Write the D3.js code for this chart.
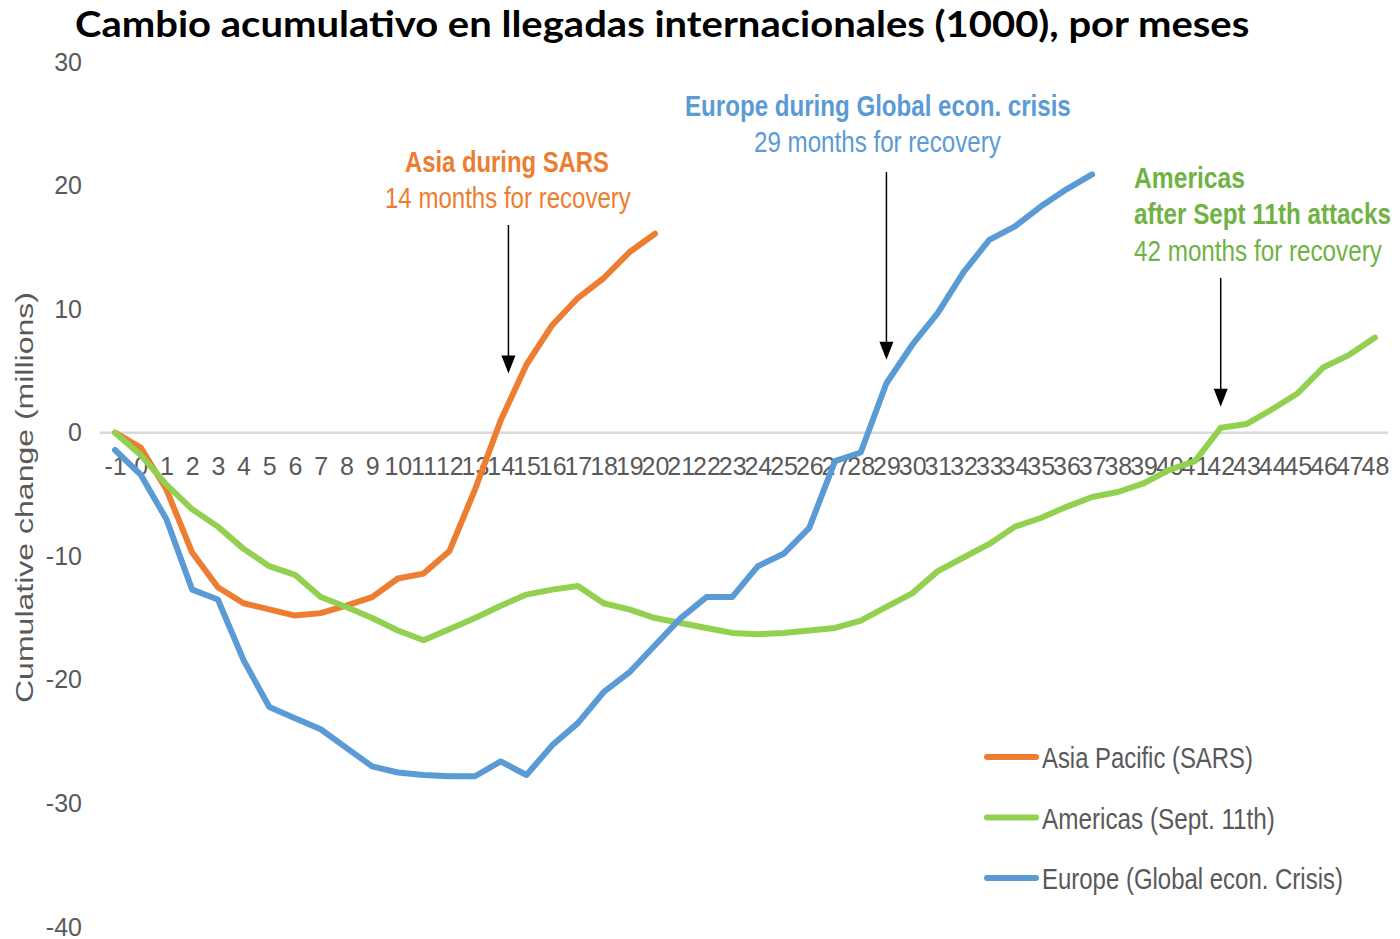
<!DOCTYPE html>
<html><head><meta charset="utf-8">
<script src="https://cdn.jsdelivr.net/npm/d3@7/dist/d3.min.js"></script>
<style>
html,body{margin:0;padding:0;background:#fff;}
svg{display:block;}
</style></head>
<body>
<svg id="chart" width="1400" height="939"></svg>
<script>
// ---- data ----
const months = [-1,0,1,2,3,4,5,6,7,8,9,10,11,12,13,14,15,16,17,18,19,20,21,22,23,24,25,26,27,28,29,30,31,32,33,34,35,36,37,38,39,40,41,42,43,44,45,46,47,48];
const yTicks = [30,20,10,0,-10,-20,-30,-40];
const asiaPacific = [0,-1.2,-4.6,-9.7,-12.5,-13.8,-14.3,-14.8,-14.6,-14.0,-13.3,-11.8,-11.4,-9.6,-4.6,1.0,5.5,8.7,10.9,12.5,14.6,16.1];
const americas = [0,-1.8,-4.2,-6.2,-7.6,-9.4,-10.8,-11.5,-13.3,-14.1,-15.0,-16.0,-16.8,-15.9,-15.0,-14.0,-13.1,-12.7,-12.4,-13.8,-14.3,-15.0,-15.4,-15.8,-16.2,-16.3,-16.2,-16.0,-15.8,-15.2,-14.1,-13.0,-11.2,-10.1,-9.0,-7.6,-6.9,-6.0,-5.2,-4.8,-4.1,-3.0,-2.3,0.4,0.7,1.9,3.2,5.3,6.3,7.7];
const europe = [-1.4,-3.4,-7.0,-12.7,-13.5,-18.4,-22.2,-23.1,-24.0,-25.5,-27.0,-27.5,-27.7,-27.8,-27.8,-26.6,-27.7,-25.3,-23.5,-21.0,-19.4,-17.2,-15.0,-13.3,-13.3,-10.8,-9.8,-7.7,-2.3,-1.6,4.0,7.1,9.7,13.0,15.6,16.7,18.3,19.7,20.9];
const seriesNames = ["Asia Pacific (SARS)", "Americas (Sept. 11th)", "Europe (Global econ. Crisis)"];
const recoveryMonths = [14.3, 29, 42];
const title = "Cambio acumulativo en llegadas internacionales (1000), por meses";
const yTitle = "Cumulative change (millions)";

// ---- setup ----
const svg = d3.select("#chart");
const tickFont = '"Liberation Sans Narrow","Arial Narrow","Liberation Sans",Arial,sans-serif';
const x = d3.scaleLinear().domain([-1, 48]).range([115, 1375]);
const y = d3.scaleLinear().domain([-40, 30]).range([927, 62]);

const colors = ["#ED7D31", "#92D050", "#5B9BD5"];
const textColors = ["#ED7D31", "#70B244", "#5B9BD5"];

// place a text whose left edge is at px and fit its width to w by horizontal scaling
function fitText(sel, px, py, w) {
  const natural = sel.node().getComputedTextLength();
  const sx = natural > 0 ? w / natural : 1;
  sel.attr("x", 0).attr("y", 0)
     .attr("transform", `translate(${px},${py}) scale(${sx},1)`);
  return sel;
}

// title
fitText(svg.append("text")
  .attr("font-family", "Lato, 'Noto Sans', sans-serif").attr("font-weight", "bold")
  .attr("font-size", 37).attr("fill", "#000")
  .text(title), 75, 37, 1175);

// y axis
const yAxis = svg.append("g").attr("transform", "translate(84,0)")
  .call(d3.axisLeft(y).tickValues(yTicks).tickSize(0).tickPadding(2).tickFormat(d => String(d)));
yAxis.select(".domain").remove();
yAxis.selectAll("text").attr("font-family", tickFont).attr("font-size", 25).attr("fill", "#595959");

// zero line
svg.append("line")
  .attr("x1", x(-1.6)).attr("x2", x(48.5))
  .attr("y1", y(0)).attr("y2", y(0))
  .attr("stroke", "#D9D9D9").attr("stroke-width", 2.5);

// x axis labels
const xAxis = svg.append("g").attr("transform", `translate(0,${y(0)})`)
  .call(d3.axisBottom(x).tickValues(months).tickSize(0).tickPadding(25).tickFormat(d => String(d)));
xAxis.select(".domain").remove();
xAxis.selectAll("text").attr("font-family", tickFont).attr("font-size", 25).attr("fill", "#595959");

// y title
svg.append("text")
  .attr("transform", `translate(33,${(292+703)/2}) rotate(-90)`)
  .attr("text-anchor", "middle")
  .attr("font-family", "'Liberation Sans',Arial,sans-serif").attr("font-size", 23)
  .attr("fill", "#595959").attr("textLength", 411).attr("lengthAdjust", "spacingAndGlyphs")
  .text(yTitle);

// lines
const line = d3.line().x((d, i) => x(months[i])).y(d => y(d));
[asiaPacific, americas, europe].forEach((s, k) => {
  svg.append("path").datum(s)
    .attr("fill", "none").attr("stroke", colors[k]).attr("stroke-width", 6)
    .attr("stroke-linejoin", "round").attr("stroke-linecap", "round")
    .attr("d", line);
});

// arrows
const arrowTops = [225, 172, 278];
const arrowTipVals = [4.8, 5.9, 2.1];
recoveryMonths.forEach((m, k) => {
  const ax = x(m), top = arrowTops[k], tip = y(arrowTipVals[k]);
  svg.append("line").attr("x1", ax).attr("x2", ax).attr("y1", top).attr("y2", tip - 14)
    .attr("stroke", "#000").attr("stroke-width", 1.5);
  svg.append("path")
    .attr("d", `M${ax - 7},${tip - 18} L${ax + 7},${tip - 18} L${ax},${tip} Z`)
    .attr("fill", "#000");
});

// annotations
const annFont = '"Liberation Sans Narrow","Arial Narrow","Liberation Sans",Arial,sans-serif';
const annotations = [
  {t: "Asia during SARS", x: 405, y: 172, w: 204, b: true, c: 0},
  {t: "14 months for recovery", x: 385, y: 208, w: 246, b: false, c: 0},
  {t: "Europe during Global econ. crisis", x: 685, y: 116, w: 386, b: true, c: 2},
  {t: "29 months for recovery", x: 754, y: 152, w: 247, b: false, c: 2},
  {t: "Americas", x: 1134, y: 188, w: 111, b: true, c: 1},
  {t: "after Sept 11th attacks", x: 1134, y: 224, w: 257, b: true, c: 1},
  {t: "42 months for recovery", x: 1134, y: 261, w: 248, b: false, c: 1}
];
annotations.forEach(a => {
  fitText(svg.append("text")
    .attr("font-family", annFont).attr("font-size", 29)
    .attr("font-weight", a.b ? "bold" : "normal")
    .attr("fill", textColors[a.c])
    .text(a.t), a.x, a.y, a.w);
});

// legend
const legendW = [211, 233, 301];
seriesNames.forEach((n, k) => {
  const ly = 757 + k * 60.5;
  svg.append("line").attr("x1", 987).attr("x2", 1036).attr("y1", ly).attr("y2", ly)
    .attr("stroke", colors[k]).attr("stroke-width", 6).attr("stroke-linecap", "round");
  fitText(svg.append("text")
    .attr("font-family", annFont).attr("font-size", 29).attr("fill", "#595959")
    .text(n), 1042, ly + 11, legendW[k]);
});
</script>
</body></html>
